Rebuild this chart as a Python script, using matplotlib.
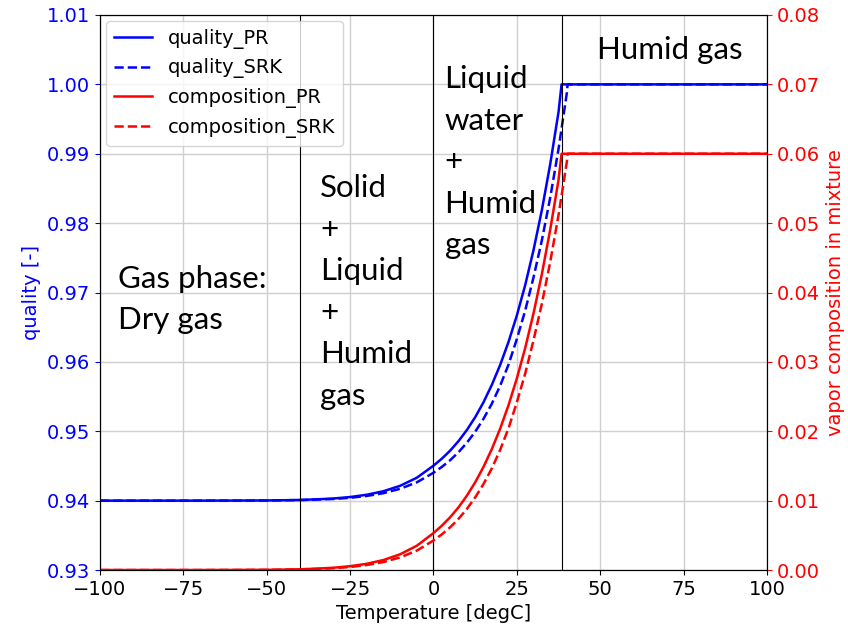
import matplotlib
matplotlib.use("Agg")
import matplotlib.pyplot as plt
import matplotlib.transforms as mtransforms
from matplotlib.ticker import FormatStrFormatter

# Temperature grids (degC) for each equation of state
temp_pr = [-100, -90, -80, -70, -60, -50, -45, -40, -35, -30, -25, -20, -15, -10, -5,
           0, 2.5, 5, 7.5, 10, 12.5, 15, 17.5, 20, 22.5, 25, 27.5, 30, 32.5, 35, 37.5,
           38.4, 50, 75, 100]
temp_srk = [-100, -90, -80, -70, -60, -50, -45, -40, -35, -30, -25, -20, -15, -10, -5,
            0, 2.5, 5, 7.5, 10, 12.5, 15, 17.5, 20, 22.5, 25, 27.5, 30, 32.5, 35, 37.5,
            40, 40.2, 50, 75, 100]

# Vapor quality [-]
quality_pr = [0.9400, 0.9400, 0.9400, 0.9400, 0.94001, 0.94003, 0.94006, 0.94010, 0.94019,
              0.94031, 0.94052, 0.94085, 0.94136, 0.94214, 0.94330, 0.94504, 0.94605,
              0.94721, 0.94858, 0.95018, 0.95203, 0.95419, 0.95670, 0.95957, 0.96289,
              0.96671, 0.97108, 0.97614, 0.98190, 0.98851, 0.99605, 1.0, 1.0, 1.0, 1.0]
quality_srk = [0.9400, 0.9400, 0.9400, 0.9400, 0.94001, 0.94002, 0.94005, 0.94008, 0.94015,
               0.94024, 0.94041, 0.94068, 0.94108, 0.94171, 0.94264, 0.94402, 0.94486,
               0.94583, 0.94698, 0.94834, 0.94993, 0.95180, 0.95398, 0.95658, 0.95962,
               0.96330, 0.96741, 0.97220, 0.97754, 0.98369, 0.99072, 0.99883, 1.0, 1.0,
               1.0, 1.0]

# Water vapor mole fraction in the gas mixture
comp_pr = [0.0, 0.0, 0.0, 0.0, 0.00001, 0.00003, 0.00006, 0.00011, 0.00020, 0.00033,
           0.00055, 0.00090, 0.00144, 0.00227, 0.00350, 0.00533, 0.00639, 0.00761,
           0.00904, 0.01071, 0.01264, 0.01487, 0.01745, 0.02039, 0.02377, 0.02763,
           0.03201, 0.03702, 0.04268, 0.04907, 0.05627, 0.0600, 0.0600, 0.0600, 0.0600]
comp_srk = [0.0, 0.0, 0.0, 0.0, 0.00001, 0.00002, 0.00005, 0.00009, 0.00016, 0.00026,
            0.00044, 0.00072, 0.00115, 0.00182, 0.00280, 0.00426, 0.00514, 0.00616,
            0.00737, 0.00880, 0.01046, 0.01240, 0.01466, 0.01733, 0.02044, 0.02418,
            0.02833, 0.03313, 0.03841, 0.04441, 0.05120, 0.05890, 0.0600, 0.0600,
            0.0600, 0.0600]

# Phase boundaries (degC)
boundaries = [-40.0, 0, 38.4]

region_labels = [["Gas phase:", "Dry gas"],
                 ["Solid", "+", "Liquid", "+", "Humid", "gas"],
                 ["Liquid", "water", "+", "Humid", "gas"],
                 ["Humid gas"]]

fig = plt.figure(figsize=(8.48, 6.30), dpi=100)
ax = fig.add_axes([0.1179, 0.0952, 0.7866, 0.8810])
ax2 = ax.twinx()

fs = 14
lw = 1.8
ax.plot(temp_pr, quality_pr, color="b", lw=lw, label="quality_PR")
ax.plot(temp_srk, quality_srk, color="b", lw=lw, ls="--", label="quality_SRK")
ax2.plot(temp_pr, comp_pr, color="r", lw=lw, label="composition_PR")
ax2.plot(temp_srk, comp_srk, color="r", lw=lw, ls="--", label="composition_SRK")

ax.set_xlim(-100, 100)
ax.set_ylim(0.93, 1.01)
ax2.set_ylim(0.0, 0.08)
ax.set_xticks([-100, -75, -50, -25, 0, 25, 50, 75, 100])
ax.set_yticks([0.93, 0.94, 0.95, 0.96, 0.97, 0.98, 0.99, 1.00, 1.01])
ax2.set_yticks([0.00, 0.01, 0.02, 0.03, 0.04, 0.05, 0.06, 0.07, 0.08])
ax.yaxis.set_major_formatter(FormatStrFormatter("%.2f"))
ax2.yaxis.set_major_formatter(FormatStrFormatter("%.2f"))

ax.grid(True, color="#cfcfcf", lw=1.0)
ax.set_axisbelow(True)

for xb in boundaries:
    ax.axvline(xb, color="black", lw=0.8)

ax.tick_params(axis="x", labelsize=fs, colors="black")
ax.tick_params(axis="y", labelsize=fs, colors="b")
ax2.tick_params(axis="y", labelsize=fs, colors="r")
ax.set_xlabel("Temperature [degC]", fontsize=fs)
ax.set_ylabel("quality [-]", fontsize=fs, color="b")
ax2.set_ylabel("vapor composition in mixture", fontsize=fs, color="r")

# Phase region annotations: x in data units, first baseline as a fraction
# of the axes height, one line every 41.5 px
trans = mtransforms.blended_transform_factory(ax.transData, ax.transAxes)
ax_h_px = 555.0
step = 41.5 / ax_h_px
tfont = dict(family=["Lato", "DejaVu Sans"], fontsize=22.5, color="black",
             va="baseline", ha="left")
anchors = [(-94.5, (570 - 287.7) / ax_h_px),
           (-33.9, (570 - 197.3) / ax_h_px),
           (3.3, (570 - 88.3) / ax_h_px),
           (49.0, (570 - 59.3) / ax_h_px)]
for lines, (x0, y0) in zip(region_labels, anchors):
    for i, line in enumerate(lines):
        ax.text(x0, y0 - i * step, line, transform=trans, **tfont)

h1, l1 = ax.get_legend_handles_labels()
h2, l2 = ax2.get_legend_handles_labels()
ax2.legend(h1 + h2, l1 + l2, loc="upper left", fontsize=fs, framealpha=0.8,
           borderaxespad=0.3)

fig.savefig("out.png", dpi=100)
